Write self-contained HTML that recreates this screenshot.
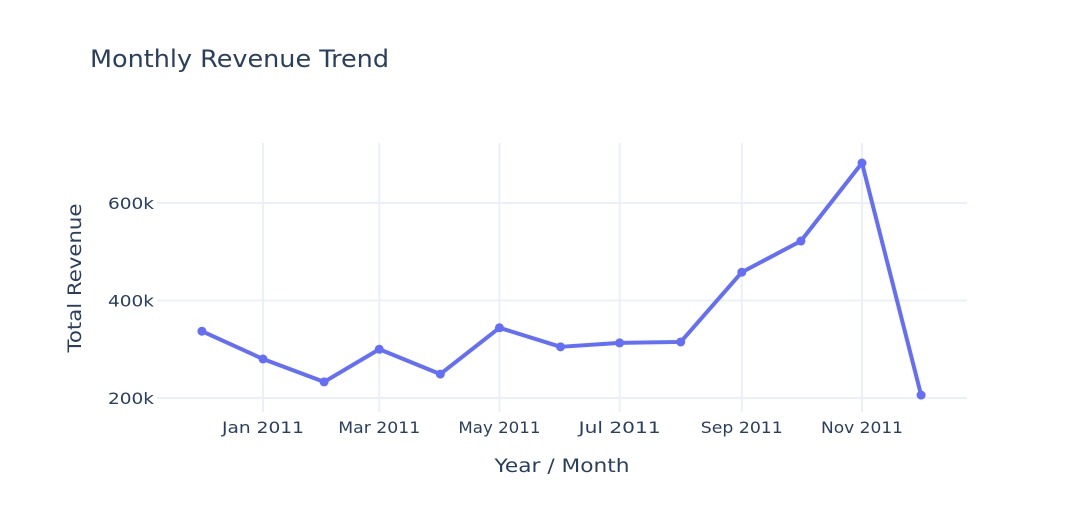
<!DOCTYPE html>
<html><head><meta charset="utf-8"><style>
body{margin:0;background:#fff}
svg text{font-family:"DejaVu Sans","Liberation Sans",Arial,sans-serif;fill:#2a3f5f}
</style></head><body>
<svg id="chart" width="1069" height="520">
<text x="90" y="67" font-size="24" textLength="299" lengthAdjust="spacingAndGlyphs">Monthly Revenue Trend</text>
<g id="grid"></g>
<g id="series"></g>
<text x="562" y="472" font-size="19" text-anchor="middle" textLength="135" lengthAdjust="spacingAndGlyphs">Year / Month</text>
<text transform="translate(81,278) rotate(-90)" font-size="19" text-anchor="middle" textLength="149" lengthAdjust="spacingAndGlyphs">Total Revenue</text>
</svg>
<script>
const months = ["2010-12","2011-01","2011-02","2011-03","2011-04","2011-05","2011-06","2011-07","2011-08","2011-09","2011-10","2011-11","2011-12"];
const revenue = [337000,280000,233000,300000,249000,344000,305000,313000,315000,458000,522000,682000,206000];
const yTicks = [200000,400000,600000];
const yTickLabels = ["200k","400k","600k"];
const xTicks = ["2011-01","2011-03","2011-05","2011-07","2011-09","2011-11"];
const xTickLabels = ["Jan 2011","Mar 2011","May 2011","Jul 2011","Sep 2011","Nov 2011"];

const NS="http://www.w3.org/2000/svg";
const L=157,R=967,T=143,B=412;
const d0=Date.UTC(2011,0,1), pxPerDay=(862-263)/304;
function x(m){const [y,mo]=m.split("-").map(Number);return 263+(Date.UTC(y,mo-1,1)-d0)/86400000*pxPerDay;}
function y(v){return 398-(v-200000)/200000*97.5;}
function el(tag,attrs,parent){const e=document.createElementNS(NS,tag);for(const k in attrs)e.setAttribute(k,attrs[k]);parent.appendChild(e);return e;}
const grid=document.getElementById("grid"), series=document.getElementById("series");
yTicks.forEach((v,i)=>{
  const g=el("line",{x1:L,x2:R,y1:y(v),y2:y(v),stroke:"#ebf0f8","stroke-width":2},grid);
  
  
  const t=el("text",{x:L-3,y:y(v)+6,"font-size":16,"text-anchor":"end",textLength:46,lengthAdjust:"spacingAndGlyphs"},grid);
  t.textContent=yTickLabels[i];
  
  
});
xTicks.forEach((m,i)=>{
  const g=el("line",{x1:x(m),x2:x(m),y1:T,y2:B,stroke:"#ebf0f8","stroke-width":2},grid);
  
  
  const t=el("text",{x:x(m),y:433,"font-size":16,"text-anchor":"middle",textLength:82,lengthAdjust:"spacingAndGlyphs"},grid);
  t.textContent=xTickLabels[i];
  
  
});
const pts=months.map((m,i)=>x(m)+","+y(revenue[i])).join(" ");
const line=el("polyline",{points:pts,fill:"none",stroke:"#636efa","stroke-width":4,"stroke-linejoin":"round"},series);


months.forEach((m,i)=>{
  const c=el("circle",{cx:x(m),cy:y(revenue[i]),r:4.5,fill:"#636efa"},series);
  
  
});
</script>
</body></html>
